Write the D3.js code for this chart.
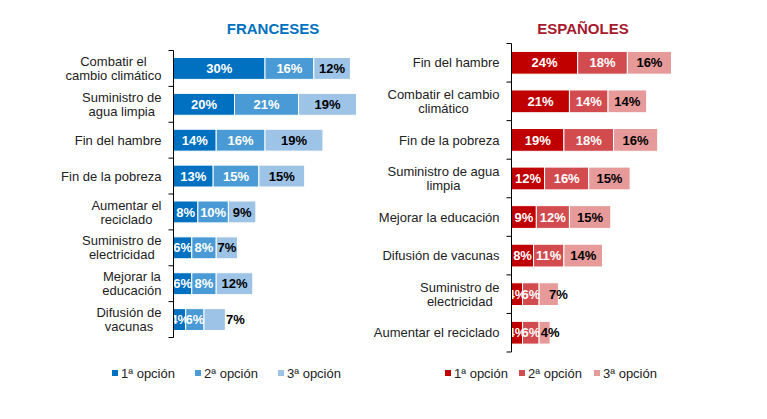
<!DOCTYPE html>
<html>
<head>
<meta charset="utf-8">
<script src="https://cdn.jsdelivr.net/npm/d3@7.9.0/dist/d3.min.js"></script>
<style>
  body { margin: 0; background: #fff; }
  svg { font-family: Arial, 'Liberation Sans', sans-serif; }
</style>
</head>
<body>
<svg width="767" height="419"></svg>
<script>
// categories ("\n" marks where the label wraps)
const frCategories = ['Combatir el\ncambio climático', 'Suministro de\nagua limpia', 'Fin del hambre', 'Fin de la pobreza',
  'Aumentar el\nreciclado', 'Suministro de\nelectricidad', 'Mejorar la\neducación', 'Difusión de\nvacunas'];
const frOpt1 = [30, 20, 14, 13, 8, 6, 6, 4];
const frOpt2 = [16, 21, 16, 15, 10, 8, 8, 6];
const frOpt3 = [12, 19, 19, 15, 9, 7, 12, 7];

const esCategories = ['Fin del hambre', 'Combatir el cambio\nclimático', 'Fin de la pobreza', 'Suministro de agua\nlimpia',
  'Mejorar la educación', 'Difusión de vacunas', 'Suministro de\nelectricidad', 'Aumentar el reciclado'];
const esOpt1 = [24, 21, 19, 12, 9, 8, 4, 4];
const esOpt2 = [18, 14, 18, 16, 12, 11, 6, 6];
const esOpt3 = [16, 14, 16, 15, 15, 14, 7, 4];

const seriesNames = ['1ª opción', '2ª opción', '3ª opción'];

const svg = d3.select('svg');

function drawPanel(cfg) {
  let g = svg.append('g');
  let series = [cfg.s1, cfg.s2, cfg.s3];
  let rows = cfg.categories.map((c, i) => ({ cat: c, vals: series.map((s) => s[i]) }));

  let y = d3.scaleBand().domain(cfg.categories).range(cfg.yRange).paddingInner(cfg.pad).paddingOuter(cfg.pad / 2);
  let x = d3.scaleLinear().domain([0, cfg.xMax]).range(cfg.xRange);

  // title
  g.append('text')
    .attr('x', cfg.titleX).attr('y', 34)
    .attr('text-anchor', 'middle')
    .attr('font-size', 15).attr('font-weight', 'bold')
    .attr('fill', cfg.titleColor)
    .text(cfg.title);

  // stacked segments
  rows.forEach((r) => {
    let acc = 0;
    let prevEnd = -Infinity;
    r.vals.forEach((v, k) => {
      let x0 = x(acc), x1 = x(acc + v);
      acc += v;
      g.append('rect')
        .attr('x', x0).attr('y', y(r.cat))
        .attr('width', x1 - x0).attr('height', y.bandwidth())
        .attr('fill', cfg.colors[k])
        .attr('stroke', '#fff').attr('stroke-width', 1);

      let t = g.append('text')
        .attr('y', y(r.cat) + y.bandwidth() / 2)
        .attr('dy', '0.36em')
        .attr('font-size', 13).attr('font-weight', 'bold')
        .attr('fill', k < 2 ? '#fff' : '#000')
        .text(v + '%');
      let w = t.node().getComputedTextLength();
      let start = (x0 + x1) / 2 - w / 2;
      // last label pushed out past the bar end when it would collide
      if (k === 2 && start < prevEnd + 4) start = x1 + cfg.outsideDx - w / 2;
      t.attr('x', start);
      prevEnd = start + w;
    });
  });

  // axis line + ticks at band boundaries
  let axisX = cfg.xRange[0];
  g.append('line')
    .attr('x1', axisX).attr('x2', axisX)
    .attr('y1', cfg.yRange[0]).attr('y2', cfg.yRange[1])
    .attr('stroke', '#000').attr('stroke-width', 1);
  let step = (cfg.yRange[1] - cfg.yRange[0]) / cfg.categories.length;
  d3.range(cfg.categories.length + 1).forEach((i) => {
    g.append('line')
      .attr('x1', axisX - 5).attr('x2', axisX)
      .attr('y1', cfg.yRange[0] + i * step).attr('y2', cfg.yRange[0] + i * step)
      .attr('stroke', '#000').attr('stroke-width', 1);
  });

  // category labels, lines centred inside a right-aligned block
  rows.forEach((r) => {
    let lines = r.cat.split('\n');
    let t = g.append('text')
      .attr('font-size', 13).attr('fill', '#222')
      .attr('text-anchor', 'middle');
    lines.forEach((l) => t.append('tspan').text(l));
    let maxW = d3.max(t.selectAll('tspan').nodes(), (n) => n.getComputedTextLength());
    let cx = axisX - 12 - maxW / 2;
    let cy = y(r.cat) + y.bandwidth() / 2;
    let lh = 14;
    t.selectAll('tspan')
      .attr('x', cx)
      .attr('y', (_, i) => cy + (i - (lines.length - 1) / 2) * lh)
      .attr('dy', '0.36em');
  });

  // legend
  seriesNames.forEach((name, k) => {
    let lx = cfg.legendX[k];
    g.append('rect')
      .attr('x', lx).attr('y', 370)
      .attr('width', 6).attr('height', 6)
      .attr('fill', cfg.colors[k]);
    g.append('text')
      .attr('x', lx + 9).attr('y', 377.5)
      .attr('font-size', 13).attr('fill', '#222')
      .text(name);
  });
}

drawPanel({
  title: 'FRANCESES', titleX: 273, titleColor: '#0070C0',
  categories: frCategories, s1: frOpt1, s2: frOpt2, s3: frOpt3,
  colors: ['#0070C0', '#4A9BD5', '#9DC3E6'],
  yRange: [50.5, 337.5], pad: 0.39,
  xRange: [173.5, 356.5], xMax: 60,
  outsideDx: 10,
  legendX: [112, 195, 278]
});

drawPanel({
  title: 'ESPAÑOLES', titleX: 583, titleColor: '#A6192E',
  categories: esCategories, s1: esOpt1, s2: esOpt2, s3: esOpt3,
  colors: ['#C00000', '#D24B4E', '#E69A9A'],
  yRange: [43.5, 352], pad: 0.41,
  xRange: [511.5, 671.5], xMax: 58,
  outsideDx: 0,
  legendX: [445, 519, 594]
});
</script>
</body>
</html>
